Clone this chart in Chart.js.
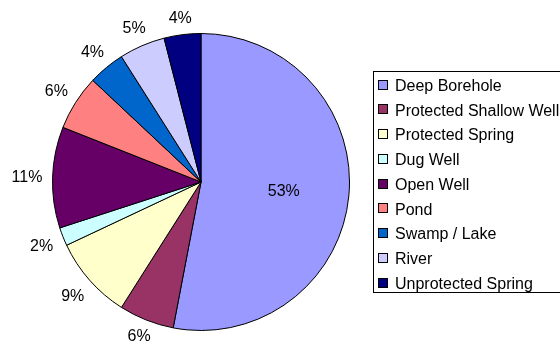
<!DOCTYPE html>
<html>
<head>
<meta charset="utf-8">
<script src="https://cdn.jsdelivr.net/npm/chart.js@4/dist/chart.umd.min.js"></script>
<style>
  html, body { margin: 0; padding: 0; background: #ffffff; }
  #wrap { width: 560px; height: 344px; }
</style>
</head>
<body>
<div id="wrap"><canvas id="c" width="560" height="344"></canvas></div>
<script>
// Water sources, share of households (%)
const sources = [
  'Deep Borehole', 'Protected Shallow Well', 'Protected Spring', 'Dug Well',
  'Open Well', 'Pond', 'Swamp / Lake', 'River', 'Unprotected Spring'
];
const shares = [53, 6, 9, 2, 11, 6, 4, 5, 4];
const sliceColors = [
  '#9999FF', '#993366', '#FFFFCC', '#CCFFFF',
  '#660066', '#FF8080', '#0066CC', '#CCCCFF', '#000080'
];

const FONT = '16px "Liberation Sans", Arial, sans-serif';
const CAP = 11.5; // cap height of the 16px face

// Percentage labels: big slice inside, the rest just outside the rim
const sliceLabels = {
  id: 'sliceLabels',
  afterDatasetsDraw(chart) {
    const ctx = chart.ctx;
    const meta = chart.getDatasetMeta(0);
    const W = chart.width, H = chart.height;
    ctx.save();
    ctx.font = FONT;
    ctx.fillStyle = '#000000';
    ctx.textAlign = 'center';
    ctx.textBaseline = 'alphabetic';
    meta.data.forEach((arc, i) => {
      const p = arc.getProps(['x', 'y', 'startAngle', 'endAngle', 'outerRadius'], true);
      const mid = (p.startAngle + p.endAngle) / 2;
      const dx = Math.cos(mid), dy = Math.sin(mid);
      const text = shares[i] + '%';
      const w = ctx.measureText(text).width;
      let cx, cy;
      if (shares[i] > 25) {
        cx = p.x + dx * p.outerRadius * 0.56;
        cy = p.y + dy * p.outerRadius * 0.56;
      } else {
        const half = Math.abs(dx) * w / 2 + Math.abs(dy) * CAP / 2;
        const R = p.outerRadius + 10 + half;
        cx = p.x + dx * R;
        cy = p.y + dy * R;
      }
      cy = Math.min(Math.max(cy, CAP / 2 + 3), H - CAP / 2 - 3);
      cx = Math.min(Math.max(cx, w / 2 + 2), W - w / 2 - 2);
      ctx.fillText(text, cx, cy + CAP / 2);
    });
    ctx.restore();
  }
};

// Boxed legend on the right
const boxedLegend = {
  id: 'boxedLegend',
  afterDraw(chart) {
    const ctx = chart.ctx;
    const left = 373.5, top = 71.5, bottom = 292.5, right = 562;
    const firstRow = 85, rowStep = 24.75;
    ctx.save();
    ctx.strokeStyle = '#000000';
    ctx.lineWidth = 1;
    ctx.fillStyle = '#ffffff';
    ctx.fillRect(left, top, right - left, bottom - top);
    ctx.strokeRect(left, top, right - left, bottom - top);
    ctx.font = FONT;
    ctx.textAlign = 'left';
    ctx.textBaseline = 'alphabetic';
    chart.data.labels.forEach((lab, i) => {
      const y = firstRow + rowStep * i;
      ctx.fillStyle = chart.data.datasets[0].backgroundColor[i];
      ctx.fillRect(379, Math.round(y - 4.5), 9, 9);
      ctx.strokeStyle = '#000000';
      ctx.strokeRect(378.5, Math.round(y - 4.5) - 0.5, 9, 9);
      ctx.fillStyle = '#000000';
      ctx.fillText(lab, 395, y + CAP / 2);
    });
    ctx.restore();
  }
};

new Chart(document.getElementById('c'), {
  type: 'pie',
  data: {
    labels: sources,
    datasets: [{
      data: shares,
      backgroundColor: sliceColors,
      borderColor: '#000000',
      borderWidth: 1
    }]
  },
  options: {
    responsive: false,
    animation: false,
    events: [],
    layout: { padding: { left: 52, right: 210, top: 33, bottom: 13 } },
    plugins: {
      legend: { display: false },
      tooltip: { enabled: false },
      title: { display: false }
    }
  },
  plugins: [sliceLabels, boxedLegend]
});
</script>
</body>
</html>
